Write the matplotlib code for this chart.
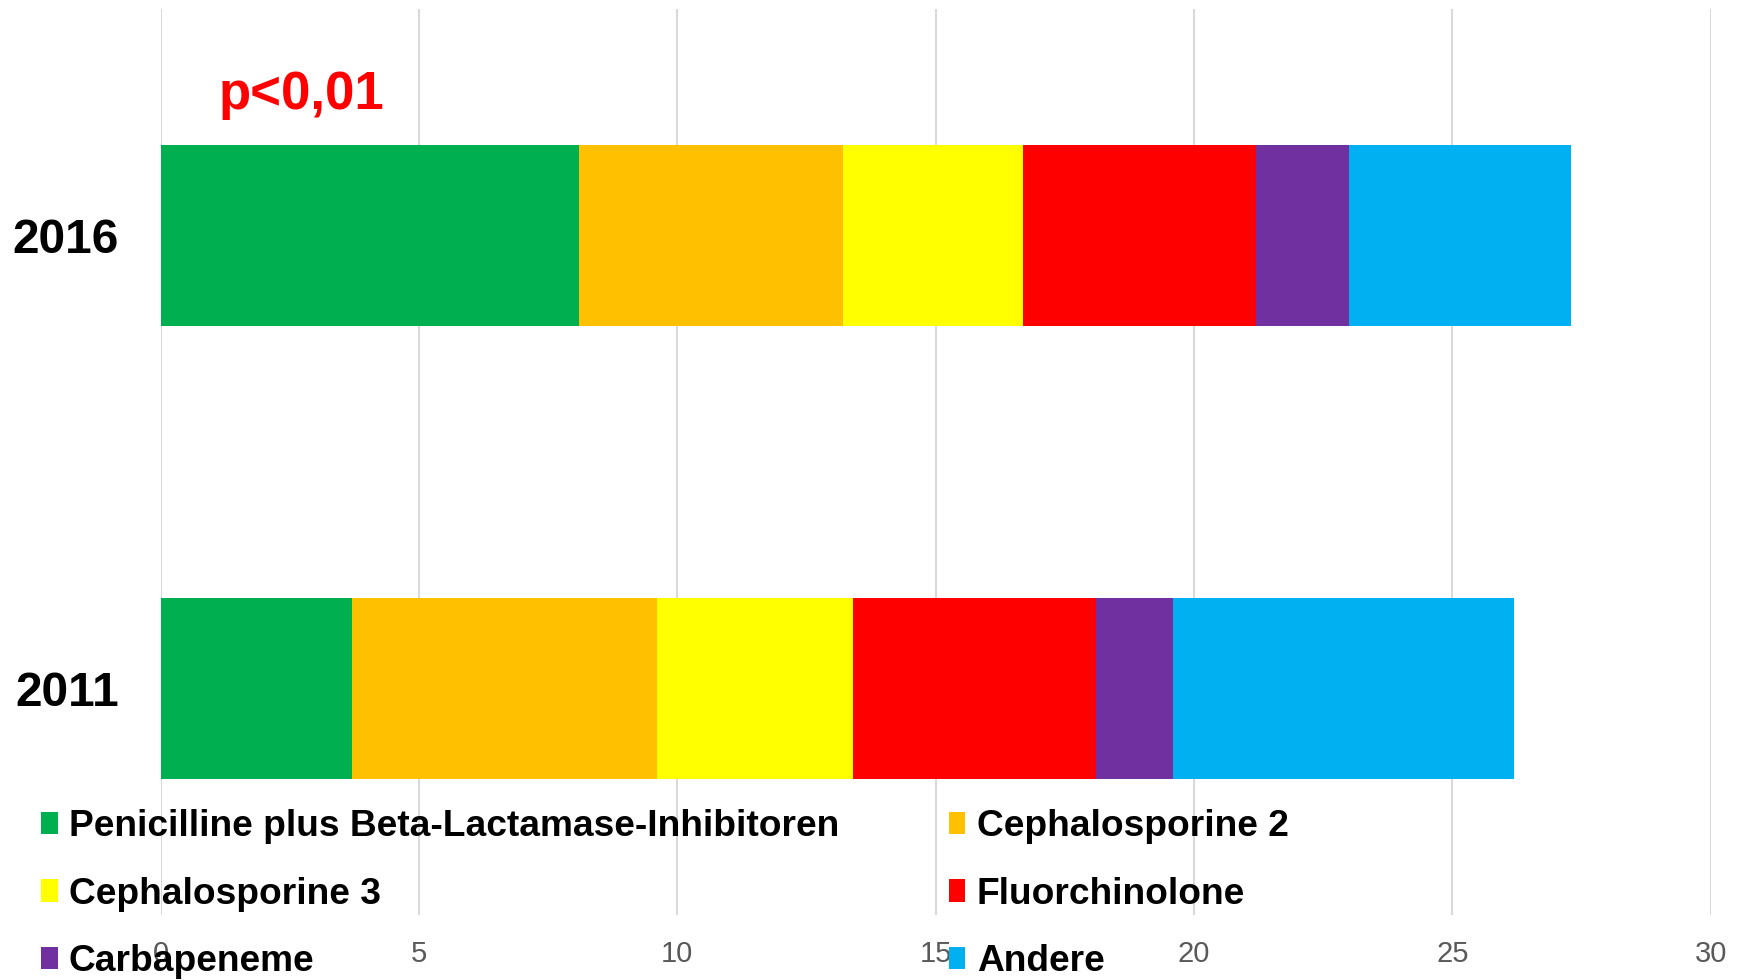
import numpy as np
import matplotlib
matplotlib.use('Agg')
import matplotlib.pyplot as plt

plt.rcParams['font.family'] = ['Liberation Sans', 'DejaVu Sans']

years = ['2011', '2016']
classes = ['Penicilline plus Beta-Lactamase-Inhibitoren', 'Cephalosporine 2',
           'Cephalosporine 3', 'Fluorchinolone', 'Carbapeneme', 'Andere']
colors = ['#00b050', '#ffc000', '#ffff00', '#ff0000', '#7030a0', '#00b0f0']

# values per class, order = years (2011, 2016)
penicilline = [3.7, 8.1]
ceph2 = [5.9, 5.1]
ceph3 = [3.8, 3.5]
fluor = [4.7, 4.5]
carba = [1.5, 1.8]
andere = [6.6, 4.3]

series = [penicilline, ceph2, ceph3, fluor, carba, andere]

fig = plt.figure(figsize=(17.42, 9.8), dpi=100)
ax = fig.add_axes([0.0922, 0.0663, 0.8898, 0.9245])

ypos = np.arange(len(years))
left = np.zeros(len(years))
handles = []
for vals, lab, col in zip(series, classes, colors):
    b = ax.barh(ypos, vals, left=left, height=0.4, color=col, label=lab, zorder=2)
    handles.append(b)
    left = left + np.array(vals)

ax.set_xlim(0, 30)
ax.set_ylim(-0.5, 1.5)
ax.set_xticks(np.arange(0, 31, 5))
ax.set_yticks(ypos)
ax.set_yticklabels(years, fontsize=34.5, fontweight='bold', color='black')
ax.tick_params(axis='x', labelsize=21, colors='#595959', length=0, pad=18)
ax.tick_params(axis='y', length=0, pad=30)
ax.grid(axis='x', color='#d9d9d9', linewidth=1.5, zorder=0)
ax.set_axisbelow(True)
for s in ax.spines.values():
    s.set_visible(False)

ax.text(2.72, 1.31, 'p<0,01', color='#ff0000', fontsize=38, fontweight='bold',
        ha='center', va='center')

# legend is laid out row-wise in the reference
order = [0, 2, 4, 1, 3, 5]
leg = fig.legend([handles[i] for i in order], [classes[i] for i in order],
                 loc='upper left', bbox_to_anchor=(0.0235, 1 - 809 / 980), ncol=2,
                 frameon=False, prop={'size': 26.7, 'weight': 'bold'},
                 handlelength=0.45, handleheight=0.55, handletextpad=0.3,
                 labelspacing=0.88, columnspacing=2.96, borderpad=0, borderaxespad=0)

fig.savefig('out.png', dpi=100)
